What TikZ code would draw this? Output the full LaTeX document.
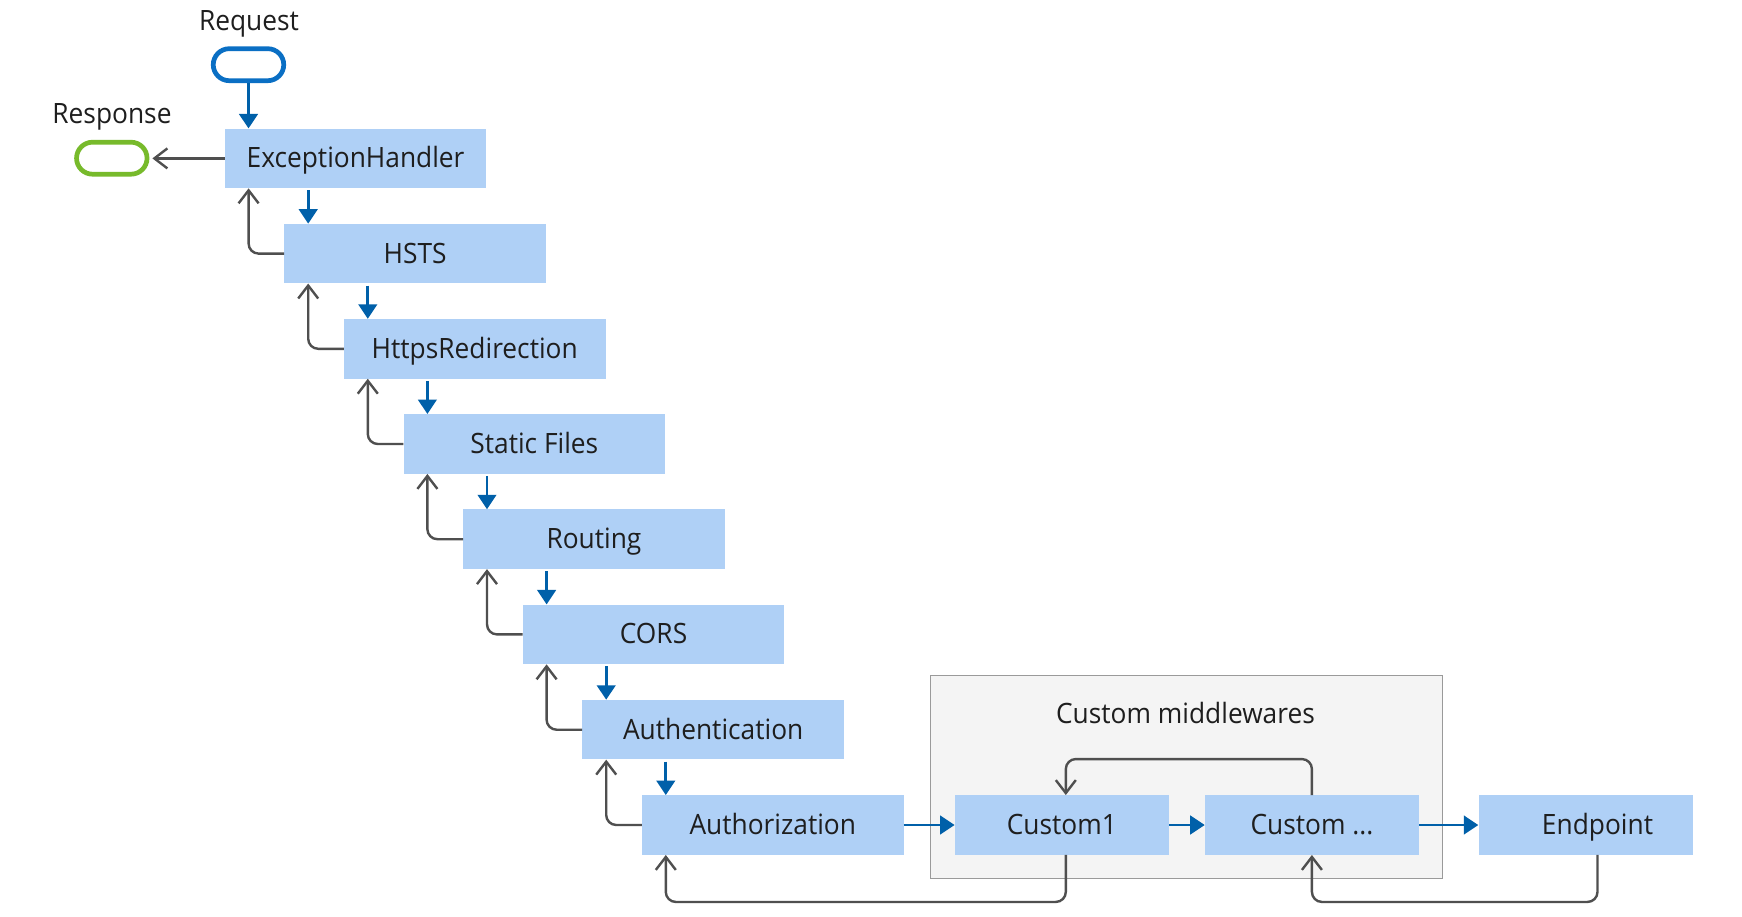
\documentclass[tikz,border=0pt]{standalone}
\usepackage{fontspec}
\setmainfont[FakeStretch=0.94]{Open Sans}
\usetikzlibrary{arrows.meta}
\definecolor{boxblue}{HTML}{AFD0F6}
\definecolor{fwdblue}{HTML}{0060A9}
\definecolor{reqblue}{HTML}{0A6FC4}
\definecolor{respgreen}{HTML}{77BA2B}
\definecolor{retgray}{HTML}{4F4F4F}
\definecolor{grpfill}{HTML}{F4F4F4}
\definecolor{grpline}{HTML}{9A9A9A}
\definecolor{txt}{HTML}{1E1E1E}
\begin{document}
\begin{tikzpicture}[x=1pt,y=-1pt,
  mw/.style={fill=boxblue, minimum width=261.5pt, minimum height=59.5pt, inner sep=0pt,
    text=txt, font=\fontsize{28}{32}\selectfont, text height=20pt, text depth=1pt},
  cw/.style={mw, minimum width=214pt},
  fwd/.style={draw=fwdblue, line width=2.8pt, -{Triangle[length=14.5pt,width=18.5pt]}},
  ret/.style={draw=retgray, line width=2.4pt, rounded corners=10pt,
    -{Straight Barb[length=13pt,width=20pt]}},
  lbl/.style={text=txt, font=\fontsize{28}{32}\selectfont, anchor=base, inner sep=0pt},
  pill/.style={rounded corners=16pt, minimum width=70.5pt, minimum height=32pt,
    line width=4.7pt, inner sep=0pt}
]
\fill[white] (0,0) rectangle (1742,917);
\useasboundingbox (0,0) rectangle (1742,917);

% group
\node[draw=grpline, fill=grpfill, line width=1.5pt, minimum width=512pt,
  minimum height=202.6pt, inner sep=0pt] (grp) at (1186.7,777) {};
\node[lbl] (gl) at (1185.5,723) {Custom middlewares};

% request / response
\node[lbl] (reql) at (249,31) {Request};
\node[pill, draw=reqblue] (req) at (248.5,64.7) {};
\node[lbl] (respl) at (112,124) {Response};
\node[pill, draw=respgreen] (resp) at (111.8,158.2) {};

% middleware stair
\node[mw] (b0) at (355.55,158.4) {ExceptionHandler};
\node[mw] (b1) at (415.15,253.6) {HSTS};
\node[mw] (b2) at (474.75,348.8) {HttpsRedirection};
\node[mw] (b3) at (534.35,444.0) {Static Files};
\node[mw] (b4) at (593.95,539.2) {Routing};
\node[mw] (b5) at (653.55,634.4) {CORS};
\node[mw] (b6) at (713.15,729.7) {Authentication};
\node[mw] (b7) at (772.75,825) {Authorization};

\node[cw] (c1) at (1061.8,825) {Custom1};
\node[cw] (c2) at (1311.9,825) {Custom ...};
\node[cw] (ep) at (1585.5,825) {\hspace*{24pt}Endpoint};

% anchor points
\foreach \i in {0,...,7}{
  \coordinate (d\i) at ([xshift=24pt]b\i.north west);
  \coordinate (u\i) at ([xshift=24pt]b\i.south west);
}

% forward (blue)
\draw[fwd] (req.south) -- (req.south |- b0.north);
\foreach \i/\j in {0/1,1/2,2/3,3/4,4/5,5/6,6/7}{
  \draw[fwd] ([yshift=-2pt]d\j |- b\i.south) -- (d\j);
}
\draw[fwd] (b7.east) -- (c1.west);
\draw[fwd] (c1.east) -- (c2.west);
\draw[fwd] (c2.east) -- (ep.west);

% return (gray)
\draw[ret, shorten >=3pt] (b0.west) -- (resp.east |- b0.west);
\foreach \i/\j in {0/1,1/2,2/3,3/4,4/5,5/6,6/7}{
  \draw[ret] (b\j.west) -| (u\i);
}
\draw[ret] ([xshift=4pt]c1.south) -- ++(0,47) -| (u7);
\draw[ret] ([xshift=12pt]ep.south) -- ++(0,47) -| (c2.south);
\draw[ret] (c2.north) -- ++(0,-36) -| ([xshift=4pt]c1.north);
\end{tikzpicture}
\end{document}
